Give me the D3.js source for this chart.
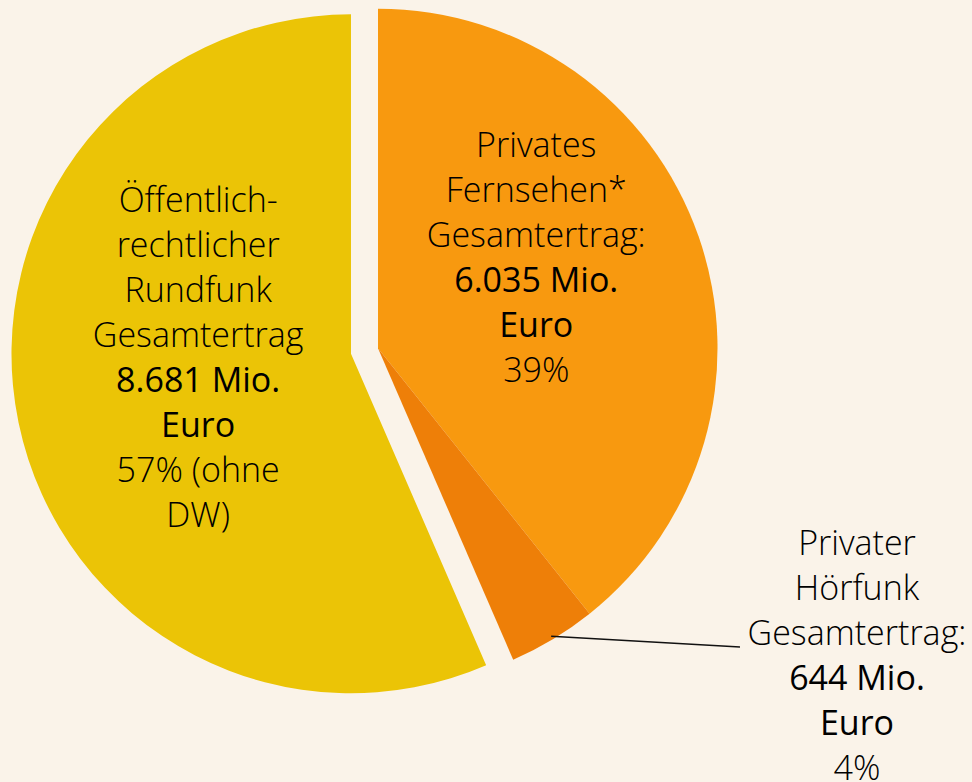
<!DOCTYPE html>
<html>
<head>
<meta charset="utf-8">
<script src="https://cdn.jsdelivr.net/npm/d3@7"></script>
<style>
  html, body { margin: 0; padding: 0; background: #faf3e9; }
  svg { display: block; }
  text { font-family: "Open Sans", sans-serif; font-size: 34px; fill: #000; }
  .lbl { font-weight: 300; }
  .val { font-weight: 400; }
</style>
</head>
<body>
<svg id="chart" width="972" height="782"></svg>
<script>
// slice data (Mio. Euro), clockwise from 12 o'clock
const categories = ['Privates Fernsehen', 'Privater Hörfunk', 'Öffentlich-rechtlicher Rundfunk'];
const values = [6035, 644, 8681];
const groups = ['privat', 'privat', 'oeffentlich'];
const colors = ['#f8990f', '#ee7f08', '#ebc406'];

// label lines per slice: [text, class]
const labelLines = [
    [['Privates', 'lbl'], ['Fernsehen*', 'lbl'], ['Gesamtertrag:', 'lbl'], ['6.035 Mio.', 'val'], ['Euro', 'val'], ['39%', 'lbl']],
    [['Privater', 'lbl'], ['Hörfunk', 'lbl'], ['Gesamtertrag:', 'lbl'], ['644 Mio.', 'val'], ['Euro', 'val'], ['4%', 'lbl']],
    [['Öffentlich-', 'lbl'], ['rechtlicher', 'lbl'], ['Rundfunk', 'lbl'], ['Gesamtertrag', 'lbl'], ['8.681 Mio.', 'val'], ['Euro', 'val'], ['57% (ohne', 'lbl'], ['DW)', 'lbl']]
];

const svg = d3.select('#chart');
const cx = 364.5, cy = 351, radius = 339.5, explode = 13.8, lineH = 45;

let data = categories.map((c, i) => ({name: c, value: values[i], group: groups[i], color: colors[i], lines: labelLines[i]}));
let arcs = d3.pie().sort(null).value(d => d.value)(data);

// angular span for each explode group
let span = {};
arcs.forEach(a => {
    let g = a.data.group;
    if (!span[g]) span[g] = [a.startAngle, a.endAngle];
    span[g][0] = Math.min(span[g][0], a.startAngle);
    span[g][1] = Math.max(span[g][1], a.endAngle);
});
function offset(g) {
    let mid = (span[g][0] + span[g][1]) / 2;
    return [explode * Math.sin(mid), -explode * Math.cos(mid)];
}

let arc = d3.arc().innerRadius(0).outerRadius(radius);

let slices = svg.selectAll('g.slice')
    .data(arcs)
    .enter().append('g')
    .attr('class', 'slice')
    .attr('transform', d => {
        let o = offset(d.data.group);
        return 'translate(' + (cx + o[0]) + ',' + (cy + o[1]) + ')';
    });

slices.append('path')
    .attr('d', arc)
    .attr('fill', d => d.data.color);

// label anchor shifts relative to slice centroid (layout only)
const labelShift = [[-18, -27], [0, 0], [30, -32]];

function drawLabel(x, y, lines) {
    let t = svg.append('text').attr('text-anchor', 'middle');
    let top = y - (lines.length - 1) * lineH / 2;
    lines.forEach((l, i) => {
        t.append('tspan')
            .attr('class', l[1])
            .attr('x', x)
            .attr('y', top + i * lineH)
            .text(l[0]);
    });
}

arcs.forEach((a, i) => {
    let o = offset(a.data.group);
    if (i === 1) return;
    let c = d3.arc().innerRadius(0).outerRadius(radius * 1.1).centroid(a);
    drawLabel(cx + o[0] + c[0] + labelShift[i][0], cy + o[1] + c[1] + labelShift[i][1] + 10, a.data.lines);
});

// small slice: outside label with leader line
let small = arcs[1];
let so = offset(small.data.group);
let mid = (small.startAngle + small.endAngle) / 2;
let r0 = radius * 0.99;
let p0 = [cx + so[0] + r0 * Math.sin(mid), cy + so[1] - r0 * Math.cos(mid)];
let p1 = [740, 647];
svg.append('line')
    .attr('x1', p0[0]).attr('y1', p0[1])
    .attr('x2', p1[0]).attr('y2', p1[1])
    .attr('stroke', '#111').attr('stroke-width', 1.6);
drawLabel(857, 667, small.data.lines);
</script>
</body>
</html>
